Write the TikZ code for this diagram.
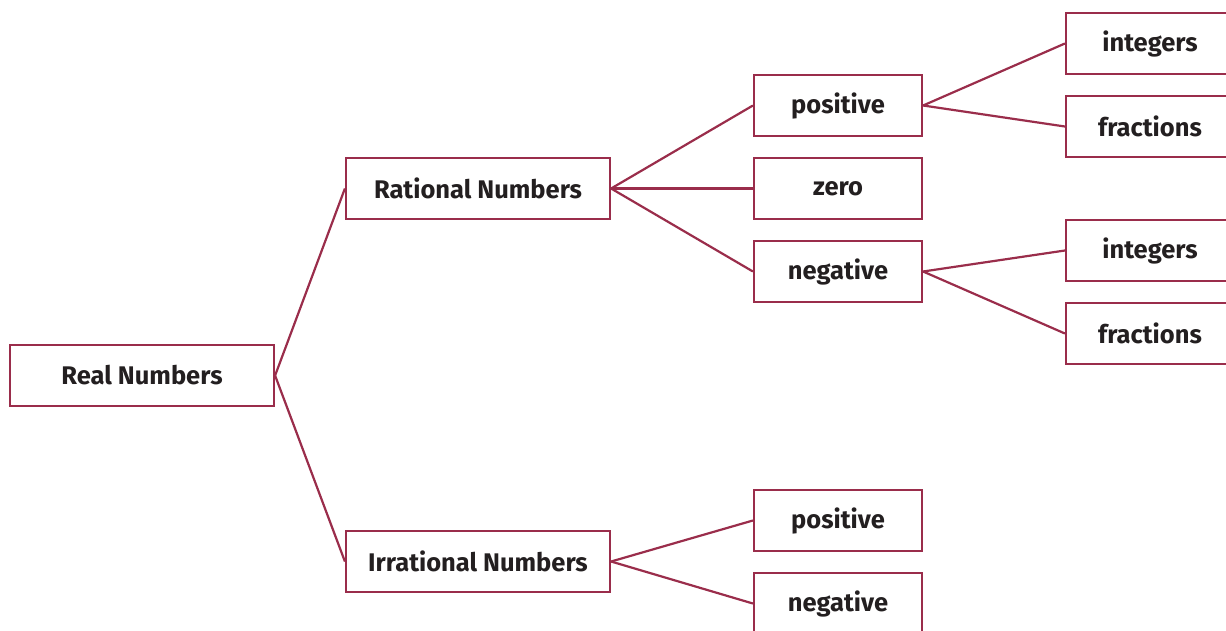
\documentclass[tikz,border=0pt]{standalone}
\usepackage{fontspec}
\setmainfont{Fira Sans}
\definecolor{wine}{HTML}{9A2D4B}
\definecolor{ink}{HTML}{231F20}
\tikzset{
  box/.style={draw=wine, line width=2.2pt, minimum width=168pt, minimum height=61pt, inner sep=0pt, text=ink, font=\fontsize{25.5}{30}\selectfont\bfseries},
  wide/.style={box, minimum width=264pt},
  link/.style={draw=wine, line width=2.2pt}
}
\begin{document}
\begin{tikzpicture}[x=1pt,y=-1pt]
\useasboundingbox (0,0) rectangle (1226,630);
\clip (0,0) rectangle (1226,630);
\node[wide] (real) at (142,375.5) {Real Numbers};
\node[wide] (rat) at (478,188.5) {Rational Numbers};
\node[wide] (irr) at (478,561.5) {Irrational Numbers};
\node[box] (rpos) at (838,105.5) {positive};
\node[box] (rzero) at (838,188.5) {zero};
\node[box] (rneg) at (838,271.5) {negative};
\node[box] (pint) at (1150,43.5) {integers};
\node[box] (pfrac) at (1150,126.5) {fractions};
\node[box] (nint) at (1150,250.5) {integers};
\node[box] (nfrac) at (1150,333.5) {fractions};
\node[box] (ipos) at (838,520.5) {positive};
\node[box] (ineg) at (838,603.5) {negative};
\draw[link] (real.east) -- (rat.west);
\draw[link] (real.east) -- (irr.west);
\draw[link] (rat.east) -- (rpos.west);
\draw[link] (rat.east) -- (rzero.west);
\draw[link] (rat.east) -- (rneg.west);
\draw[link] (rpos.east) -- (pint.west);
\draw[link] (rpos.east) -- (pfrac.west);
\draw[link] (rneg.east) -- (nint.west);
\draw[link] (rneg.east) -- (nfrac.west);
\draw[link] (irr.east) -- (ipos.west);
\draw[link] (irr.east) -- (ineg.west);
\end{tikzpicture}
\end{document}
